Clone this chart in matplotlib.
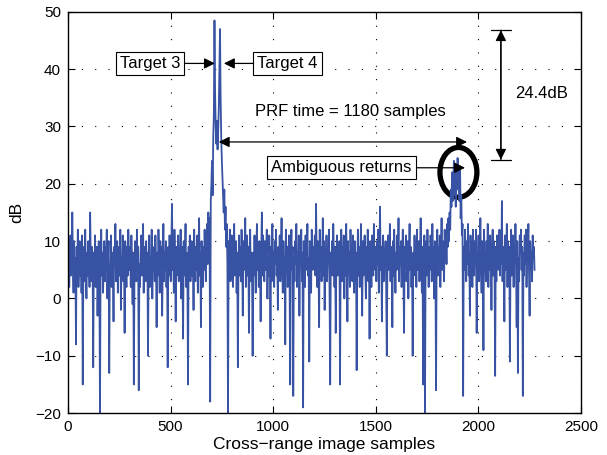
import numpy as np
import matplotlib
matplotlib.use('Agg')
import matplotlib.pyplot as plt
from matplotlib.patches import Ellipse

plt.rcParams['font.family'] = ['Liberation Sans', 'DejaVu Sans']
plt.rcParams['axes.unicode_minus'] = True

# cross-range profile (dB), read every 3 samples
step = 3
profile = [
    5, 9, 2, 7, 11, 4, 8, 15, 6, 1, 10, 3, 7, -8, 9, 5, 12, 2, 6, 10,
    4, 8, 1, 11, -15, 6, 9, 3, 12, 5, 0, 8, 4, 10, 6, 2, 15, 7, 3, 9,
    6, -12, 8, 4, 11, 2, 7, 9, -3, 5, 10, 3, -20, 7, 12, 4, 8, 1, 6, 10,
    3, 9, 5, 12, 0, 7, 10, -13, 6, 4, 11, 2, 8, 5, -4, 9, 6, 13, 3, 7,
    10, 1, 6, 9, 4, 12, -2, 7, 5, 11, 3, 8, -6, 10, 6, 2, 9, 4, 12, 7,
    5, 9, 2, 11, 6, -1, 8, -15, 4, 10, 7, 3, 12, 5, 9, -16, 6, 2, 8, 11,
    4, 7, 13, 1, 9, 6, 3, 10, 5, 8, -10, 6, 11, 2, 7, 4, 12, 0, 8, 5,
    9, 3, 11, 6, -5, 8, 4, 12, 7, 1, 10, 5, 9, -3, 6, 13, 3, 8, 5, 10,
    2, 7, -12, 9, 4, 11, 6, 3, 10, 16.5, 5, 8, 1, 12, 6, -4, 9, 4, 7, 11,
    3, 8, 6, 12, 0, 9, 5, -7, 10, 4, 7, 13, 2, 8, 5, -15, 9, 6, 11, 3,
    7, 10, 4, 8, -2, 12, 6, 3, 9, 5, 11, 1, 7, 14, 4, 8, -5, 10, 6, 2,
    9, 5, 12, 7, 3, 10, 13, 6, 15, 9, 14, -18, 17, 20, 24, 18, 28, 32, 48.5, 36,
    30, 27, 31, 26, 29, 33, 40, 47, 35, 28, 24, 21, 18, 15, 19, 12, 16, 9, 13, 6,
    -20, 10, 5, 12, 3, 8, 11, 6, 2, 9, 13, 4, 7, 10, 1, 8, -12, 6, 11, 4,
    9, 3, 12, 7, -3, 10, 5, 8, 14, 2, 6, 11, 4, 9, -6, 7, 12, 3, 8, 5,
    -10, 8, 4, 11, 6, 1, 9, 13, 5, 7, 2, 10, 6, -4, 8, 15, 4, 11, 7, 3,
    10, 5, 8, 12, 0, 7, 4, 11, 6, -7, 9, 3, 13, 5, 8, 2, 10, 6, 12, 4,
    7, -2, 9, 5, 11, 3, 8, 14, 6, 1, 10, 4, 7, -8, 12, 5, 9, 2, 6, 11,
    4, -15, 8, 12, 5, 9, -17, 7, 3, 10, 6, 13, 2, 8, 5, 11, -3, 9, 6, 12,
    3, 8, -19, 10, 6, 2, 11, 5, 9, 13, 4, 7, -11, 10, 6, 1, 12, 8, 5, 9,
    7, 11, 4, 16.5, 8, 2, 10, 6, -5, 12, 5, 9, 3, 7, 14, 4, 10, -2, 8, 6,
    11, 3, 9, 6, 12, 1, -15, 8, 5, 10, 4, 13, 7, 2, 9, -6, 6, 11, 4, 8,
    5, 10, -15, 7, 12, 3, 9, 6, 11, 0, 8, 4, 13, 6, -4, 10, 5, 8, 2, 12,
    6, 9, 3, 11, 7, 1, 10, 5, 8, -12.5, 6, 12, 4, 9, 2, 7, 13, 5, -3, 10,
    4, 8, 11, 6, 0, 9, 5, 12, 3, 7, -7, 10, 6, 2, 11, 8, 4, 13, 7, 5,
    9, 3, 10, 6, 12, 1, 8, 16, 5, 9, -4, 7, 11, 3, 8, 6, 10, 2, -10, 7,
    11, 5, 8, 13, 3, 9, 6, -5, 10, 4, 12, 7, 1, 8, 5, 11, 6, 14, 3, 9,
    6, 10, 2, 8, 12, 4, -6, 9, 7, 11, 3, 6, 10, 0, 8, 13, 5, 9, 2, 7,
    -10, 8, 4, 11, 6, 9, 2, 12, 5, 7, 10, 3, 8, 14, 6, 1, 9, -15, 7, 11,
    -20, 6, 10, 4, 12, 7, 2, 9, 5, 11, 8, 3, 13, 6, 9, 0, 10, 5, -16, 8,
    12, 4, 9, 6, 11, 2, 8, 14, 5, 10, 7, 3, 12, 8, 11, 6, 13, 9, 14, 10,
    15, 12, 19, 16, 22, 17, 20, 24, 18, 21, 16, 23, 19, 24.5, 20, 22, 17, 23, 14, 18,
    11, 13, -17, 9, 5, 12, 7, 3, 10, 6, 13, 4, 8, -3, 11, 6, 9, 2, 12, 7,
    4, 10, 6, 12, -6, 8, 5, 11, 3, 9, 14, 6, 1, 10, 7, -9, 12, 5, 8, 3,
    10, 6, 13, 2, 9, 5, 11, 7, -2, 8, 12, 4, 10, 6, -13.5, 9, 3, 11, 7, 5,
    8, 12, 4, 10, 6, 17, 3, 9, 7, -4, 11, 5, 8, 13, 2, 10, 6, 9, -11, 7,
    12, 4, 8, 11, 2, 9, 6, 13, 5, -5, 10, -13, 7, 3, 11, 8, 12, 5, 9, -17,
    8, 4, 11, 6, 12, 2, 9, 7, 13, 5, -3, 10, 6, 8, 3, 11, 7, 9, 5,
]
samples = np.arange(len(profile)) * step

x_ticks = [0, 500, 1000, 1500, 2000, 2500]
y_ticks = [-20, -10, 0, 10, 20, 30, 40, 50]

fig = plt.figure(figsize=(6.07, 4.55), dpi=100)
ax = fig.add_axes([0.112, 0.092, 0.845, 0.882])

ax.plot(samples, profile, color='#3953a4', lw=1.3)

ax.set_xlim(0, 2500)
ax.set_ylim(-20, 50)
ax.set_xticks(x_ticks)
ax.set_yticks(y_ticks)
ax.tick_params(direction='in', top=True, right=True, length=5, labelsize=11, pad=5)
ax.grid(True, color='k', linestyle=(0, (1, 11)), lw=0.8)
for s in ax.spines.values():
    s.set_linewidth(1.0)
ax.set_xlabel('Cross\u2212range image samples', fontsize=12.5, labelpad=2)
ax.set_ylabel('dB', fontsize=12.5, labelpad=8)

box = dict(boxstyle='square,pad=0.25', fc='white', ec='k', lw=0.8)
arr = dict(arrowstyle='-|>', color='k', lw=0.9, mutation_scale=16, shrinkA=0, shrinkB=0)

ax.annotate('Target 3', xy=(716, 41), xytext=(400, 41), fontsize=12,
            ha='center', va='center', bbox=box, arrowprops=arr)
ax.annotate('Target 4', xy=(760, 41), xytext=(1070, 41), fontsize=12,
            ha='center', va='center', bbox=box, arrowprops=arr)
ax.annotate('Ambiguous returns', xy=(1935, 22.8), xytext=(1332, 22.8), fontsize=12,
            ha='center', va='center', bbox=box, arrowprops=arr)

ax.text(1374, 32.6, 'PRF time = 1180 samples', fontsize=12, ha='center', va='center')
ax.annotate('', xy=(1945, 27.3), xytext=(735, 27.3),
            arrowprops=dict(arrowstyle='<|-|>', color='k', lw=0.9, mutation_scale=16,
                            shrinkA=0, shrinkB=0))

ax.annotate('', xy=(2110, 46.8), xytext=(2110, 24.2),
            arrowprops=dict(arrowstyle='<|-|>', color='k', lw=0.9, mutation_scale=16,
                            shrinkA=0, shrinkB=0))
ax.annotate('', xy=(2110, 46.8), xytext=(2110, 24.2),
            arrowprops=dict(arrowstyle='|-|,widthA=0.45,widthB=0.45', color='k', lw=0.9,
                            mutation_scale=16, shrinkA=0, shrinkB=0))
ax.text(2178, 35.7, '24.4dB', fontsize=12, ha='left', va='center')

ax.add_patch(Ellipse((1903, 22), 180, 8.7, fill=False, ec='k', lw=3.8))

fig.savefig('out.png', dpi=100)
